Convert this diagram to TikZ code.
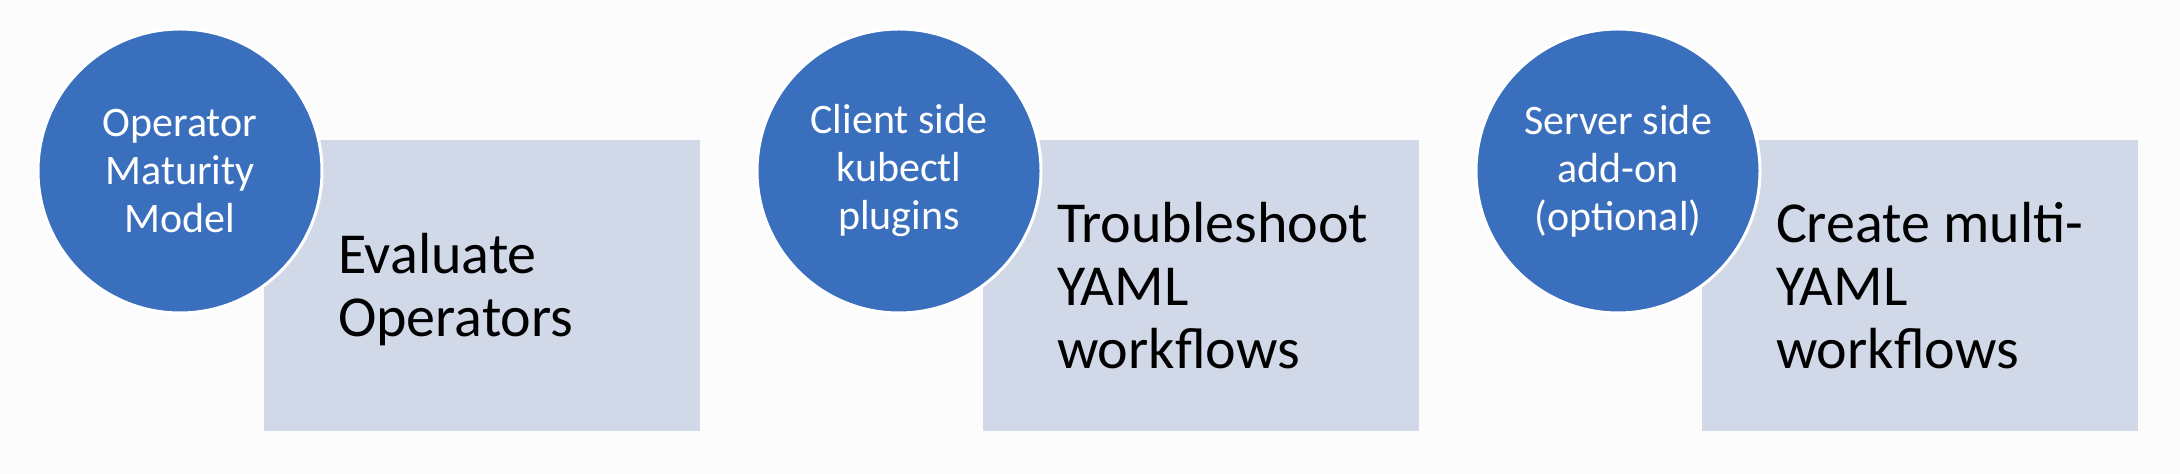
\documentclass[tikz,border=0pt]{standalone}
\usepackage{fontspec}
\setmainfont{Carlito}
\definecolor{circblue}{HTML}{3A6FBE}
\definecolor{boxfill}{HTML}{D1D8E8}
\definecolor{bgcol}{HTML}{FCFCFC}
\tikzset{
  disc/.style={circle, fill=circblue, draw=white, line width=1.5pt, minimum size=142pt, inner sep=0pt,
    text=white, align=center, font=\fontsize{21pt}{24pt}\selectfont},
  panel/.style={rectangle, fill=boxfill, draw=none, minimum width=218pt, minimum height=145.5pt, inner sep=0pt},
  paneltext/.style={anchor=west, align=left, inner sep=0pt, text=black, font=\fontsize{29pt}{31.5pt}\selectfont}
}
\begin{document}
\begin{tikzpicture}[x=0.5pt,y=-0.5pt]
\fill[bgcol] (0,0) rectangle (2180,474);
\useasboundingbox (0,0) rectangle (2180,474);
% panel 1
\node[panel] (b1) at (482,285.5) {};
\node[paneltext] (t1) at ([xshift=37pt,yshift=-2pt]b1.west) {Evaluate\\Operators};
\node[disc] (c1) at (180,171) {Operator\\Maturity\\Model};
% panel 2
\node[panel] (b2) at (1201,285.5) {};
\node[paneltext] (t2) at ([xshift=37pt]b2.west) {Troubleshoot\\YAML\\workflows};
\node[disc] (c2) at (899,171) {Client side\\kubectl\\plugins};
% panel 3
\node[panel] (b3) at (1920,285.5) {};
\node[paneltext] (t3) at ([xshift=37pt]b3.west) {Create multi-\\YAML\\workflows};
\node[disc] (c3) at (1618,171) {Server side\\add-on\\(optional)};
\end{tikzpicture}
\end{document}
